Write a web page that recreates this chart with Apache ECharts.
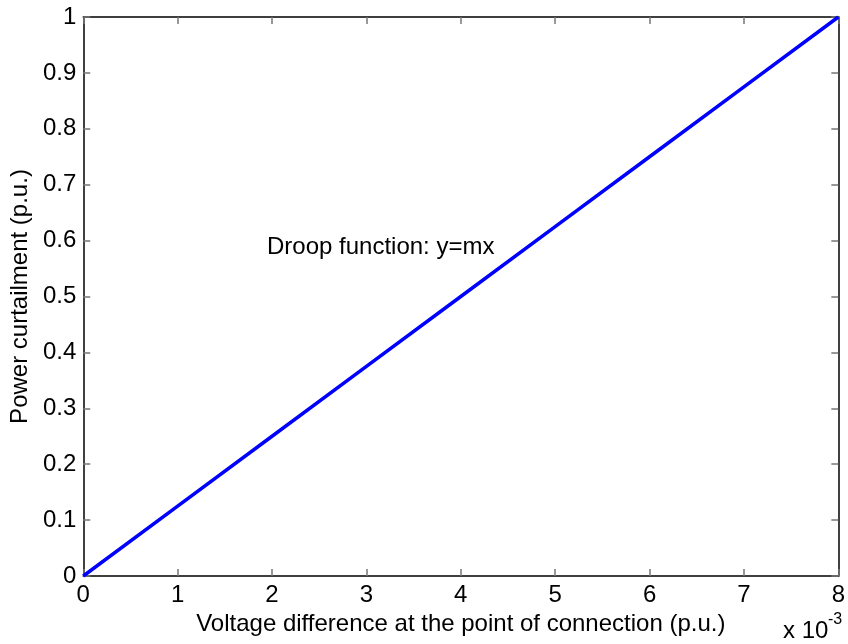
<!DOCTYPE html>
<html>
<head>
<meta charset="utf-8">
<script src="https://cdn.jsdelivr.net/npm/echarts@6/dist/echarts.min.js"></script>
<style>
  html, body { margin: 0; padding: 0; background: #fff; }
  #chart { width: 848px; height: 644px; }
</style>
</head>
<body>
<div id="chart"></div>
<script>
// Droop characteristic: power curtailment vs. voltage difference (p.u.)
const voltageDiff = [0, 0.001, 0.002, 0.003, 0.004, 0.005, 0.006, 0.007, 0.008];
const powerCurtailment = [0, 0.125, 0.25, 0.375, 0.5, 0.625, 0.75, 0.875, 1];
const xTitle = 'Voltage difference at the point of connection (p.u.)';
const yTitle = 'Power curtailment (p.u.)';
const annotation = 'Droop function: y=mx';

const FONT = '"Liberation Sans", Arial, sans-serif';
const FS = 24;
const tickStyle = { show: true, inside: true, length: 7, lineStyle: { color: '#777', width: 1.5 } };
const lineStyleAxis = { show: true, onZero: false, lineStyle: { color: '#000', width: 1.5 } };

const chart = echarts.init(document.getElementById('chart'));
chart.setOption({
  animation: false,
  backgroundColor: '#fff',
  grid: { left: 83, right: 7, top: 17, bottom: 68, containLabel: false },
  xAxis: [{
    type: 'value', min: 0, max: 0.008, interval: 0.001, position: 'bottom',
    axisLine: lineStyleAxis, axisTick: tickStyle, splitLine: { show: false },
    axisLabel: { color: '#000', fontSize: FS, fontFamily: FONT, margin: 7,
      formatter: v => String(Math.round(v * 1000)) },
    name: xTitle, nameLocation: 'middle', nameGap: 33,
    nameTextStyle: { color: '#000', fontSize: FS, fontFamily: FONT, verticalAlign: 'top' }
  }, {
    type: 'value', min: 0, max: 0.008, interval: 0.001, position: 'top',
    axisLine: lineStyleAxis, axisTick: tickStyle, axisLabel: { show: false }, splitLine: { show: false }
  }],
  yAxis: [{
    type: 'value', min: 0, max: 1, interval: 0.1, position: 'left',
    axisLine: lineStyleAxis, axisTick: tickStyle, splitLine: { show: false },
    axisLabel: { color: '#000', fontSize: FS, fontFamily: FONT, margin: 7 },
    name: yTitle, nameLocation: 'middle', nameGap: 46,
    nameTextStyle: { color: '#000', fontSize: FS, fontFamily: FONT }
  }, {
    type: 'value', min: 0, max: 1, interval: 0.1, position: 'right',
    axisLine: lineStyleAxis, axisTick: tickStyle, axisLabel: { show: false }, splitLine: { show: false }
  }],
  series: [{
    type: 'line',
    data: voltageDiff.map((x, i) => [x, powerCurtailment[i]]),
    showSymbol: false,
    lineStyle: { color: '#0000ff', width: 3.5 },
    z: 5
  }],
  graphic: [{
    type: 'text', left: 267, top: 235,
    style: { text: annotation, fill: '#000', font: FS + 'px ' + FONT }
  }, {
    type: 'text', left: 783, top: 619,
    style: { text: 'x 10', fill: '#000', font: FS + 'px ' + FONT }
  }, {
    type: 'text', left: 828, top: 612,
    style: { text: '-3', fill: '#000', font: '16px ' + FONT }
  }]
});
</script>
</body>
</html>
